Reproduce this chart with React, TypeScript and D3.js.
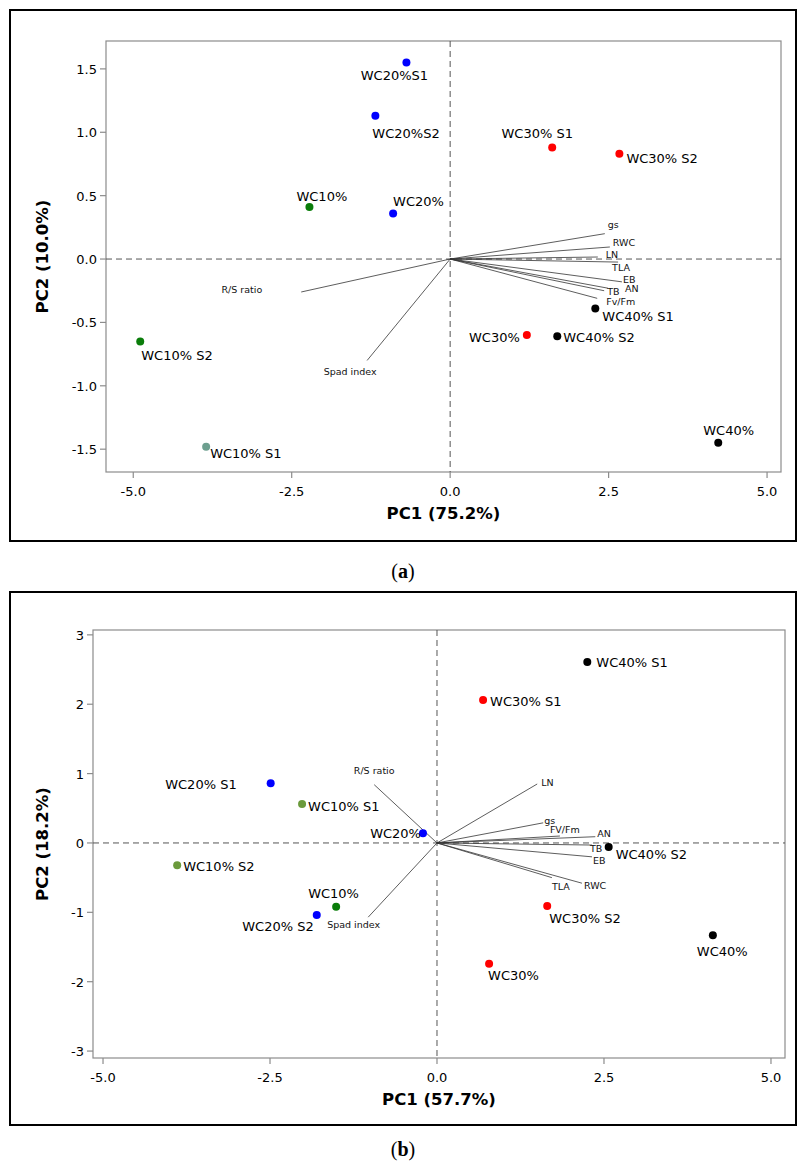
import React from "react";
import * as d3 from "d3";

// ---- Panel (a): PCA scores ----
const namesA = ["WC20%S1", "WC20%S2", "WC30% S1", "WC30% S2", "WC10%", "WC20%", "WC10% S2", "WC10% S1", "WC30%", "WC40% S2", "WC40% S1", "WC40%"];
const pc1A = [-0.69, -1.18, 1.61, 2.67, -2.22, -0.9, -4.89, -3.85, 1.21, 1.69, 2.29, 4.23];
const pc2A = [1.55, 1.13, 0.88, 0.83, 0.41, 0.36, -0.65, -1.48, -0.6, -0.61, -0.39, -1.45];
const colorA = ["#0000ff", "#0000ff", "#ff0000", "#ff0000", "#0a7d0a", "#0000ff", "#0a7d0a", "#6d9f8f", "#ff0000", "#000000", "#000000", "#000000"];

// ---- Panel (a): variable loadings ----
const varsA = ["gs", "RWC", "LN", "TLA", "EB", "AN", "TB", "Fv/Fm", "R/S ratio", "Spad index"];
const loadXA = [2.44, 2.52, 2.33, 2.65, 2.71, 2.49, 2.43, 2.32, -2.35, -1.31];
const loadYA = [0.2, 0.095, 0.016, -0.024, -0.18, -0.23, -0.25, -0.31, -0.26, -0.8];

// ---- Panel (b): PCA scores ----
const namesB = ["WC40% S1", "WC30% S1", "WC20% S1", "WC10% S1", "WC20%", "WC10% S2", "WC40% S2", "WC10%", "WC20% S2", "WC30% S2", "WC30%", "WC40%"];
const pc1B = [2.25, 0.69, -2.49, -2.02, -0.21, -3.89, 2.57, -1.51, -1.8, 1.65, 0.78, 4.13];
const pc2B = [2.61, 2.06, 0.86, 0.56, 0.14, -0.32, -0.06, -0.92, -1.04, -0.91, -1.74, -1.33];
const colorB = ["#000000", "#ff0000", "#0000ff", "#6b9a3c", "#0000ff", "#6b9a3c", "#000000", "#0a7d0a", "#0000ff", "#ff0000", "#ff0000", "#000000"];

// ---- Panel (b): variable loadings ----
const varsB = ["R/S ratio", "LN", "gs", "FV/Fm", "AN", "TB", "EB", "RWC", "TLA", "Spad index"];
const loadXB = [-0.94, 1.5, 1.59, 1.84, 2.37, 2.32, 2.32, 2.17, 1.72, -1.03];
const loadYB = [0.84, 0.85, 0.29, 0.1, 0.09, -0.03, -0.2, -0.58, -0.5, -1.07];

// ---- Axis ticks ----
const xTicks = [-5.0, -2.5, 0.0, 2.5, 5.0];
const yTicksA = [-1.5, -1.0, -0.5, 0.0, 0.5, 1.0, 1.5];
const yTicksB = [-3, -2, -1, 0, 1, 2, 3];

// ---- Label placement (pixel offsets from the mark) ----
type Place = [number, number, "start" | "middle" | "end"];
const scoreLabelA: Place[] = [
  [-12, 17, "middle"], [-3, 22, "start"], [-15, -9, "middle"], [7, 9, "start"],
  [-13, -6, "start"], [0, -7, "start"], [1, 19, "start"], [4, 11, "start"],
  [-7, 7, "end"], [6, 6, "start"], [7, 13, "start"], [-15, -8, "start"],
];
const varLabelA: Place[] = [
  [3, -6, "start"], [3, -1, "start"], [8, 1, "start"], [-6, 9, "start"], [1, 1, "start"],
  [17, 4, "start"], [3, 4, "start"], [9, 7, "start"], [-39, 1, "end"], [-17, 15, "middle"],
];
const scoreLabelB: Place[] = [
  [9, 5, "start"], [7, 6, "start"], [-34, 6, "end"], [6, 7, "start"], [-2, 5, "end"],
  [6, 6, "start"], [7, 12, "start"], [-28, -9, "start"], [-3, 16, "end"], [2, 17, "start"],
  [-1, 16, "start"], [-16, 21, "start"],
];
const varLabelB: Place[] = [
  [0, -11, "middle"], [4, 2, "start"], [1, 1, "start"], [-10, -3, "start"], [2, 0, "start"],
  [-2, 7, "start"], [1, 7, "start"], [2, 6, "start"], [0, 12, "start"], [-41, 11, "start"],
];

const FONT = "'DejaVu Sans', Verdana, sans-serif";

// plain hyphen for negative numbers
const fmt1 = (v: number) => d3.format(".1f")(v).replace("\u2212", "-");
const fmt0 = (v: number) => d3.format("d")(v).replace("\u2212", "-");

interface PanelProps {
  frameTop: number;
  frameBottom: number;
  captionY: number;
  left: number;
  right: number;
  top: number;
  bottom: number;
  xDomain: [number, number];
  yDomain: [number, number];
  yTicks: number[];
  yFmt: (v: number) => string;
  xTitle: string;
  yTitle: string;
  caption: string;
  names: string[];
  px: number[];
  py: number[];
  colors: string[];
  scorePlace: Place[];
  vars: string[];
  lx: number[];
  ly: number[];
  varPlace: Place[];
}

function Panel(p: PanelProps) {
  const x = d3.scaleLinear().domain(p.xDomain).range([p.left, p.right]);
  const y = d3.scaleLinear().domain(p.yDomain).range([p.bottom, p.top]);
  const axisColor = "#8c8c8c";
  const x0 = x(0);
  const y0 = y(0);
  const xMid = (p.left + p.right) / 2;
  const yMid = (p.top + p.bottom) / 2;
  return (
    <g>
      {/* outer frame */}
      <rect x={10} y={p.frameTop} width={786} height={p.frameBottom - p.frameTop} fill="none" stroke="#000" strokeWidth={2} />
      {/* plot box */}
      <rect x={p.left} y={p.top} width={p.right - p.left} height={p.bottom - p.top} fill="#fff" stroke={axisColor} strokeWidth={1.2} />
      {/* reference lines through the origin */}
      <line x1={p.left} x2={p.right} y1={y0} y2={y0} stroke="#555" strokeWidth={1} strokeDasharray="6,4" />
      <line x1={x0} x2={x0} y1={p.top} y2={p.bottom} stroke="#555" strokeWidth={1} strokeDasharray="6,4" />
      {/* x axis ticks */}
      {xTicks.map((t) => (
        <g key={"xt" + t}>
          <line x1={x(t)} x2={x(t)} y1={p.bottom} y2={p.bottom + 6} stroke={axisColor} strokeWidth={1.2} />
          <text x={x(t)} y={p.bottom + 24} textAnchor="middle" fontFamily={FONT} fontSize={13} fill="#000">
            {fmt1(t)}
          </text>
        </g>
      ))}
      {/* y axis ticks */}
      {p.yTicks.map((t) => (
        <g key={"yt" + t}>
          <line x1={p.left - 6} x2={p.left} y1={y(t)} y2={y(t)} stroke={axisColor} strokeWidth={1.2} />
          <text x={p.left - 9} y={y(t) + 5} textAnchor="end" fontFamily={FONT} fontSize={13} fill="#000">
            {p.yFmt(t)}
          </text>
        </g>
      ))}
      {/* axis titles */}
      <text x={xMid} y={p.bottom + 47} textAnchor="middle" fontFamily={FONT} fontSize={16.5} fontWeight="bold">
        {p.xTitle}
      </text>
      <text
        transform={`translate(48,${yMid}) rotate(-90)`}
        textAnchor="middle"
        fontFamily={FONT}
        fontSize={16.5}
        fontWeight="bold"
      >
        {p.yTitle}
      </text>
      {/* loading vectors */}
      {p.vars.map((v, i) => {
        const ex = x(p.lx[i]);
        const ey = y(p.ly[i]);
        const [dx, dy, anchor] = p.varPlace[i];
        return (
          <g key={"v" + v}>
            <line x1={x0} y1={y0} x2={ex} y2={ey} stroke="#333" strokeWidth={0.8} />
            <text x={ex + dx} y={ey + dy} textAnchor={anchor} fontFamily={FONT} fontSize={9.5} fill="#111">
              {v}
            </text>
          </g>
        );
      })}
      {/* scores */}
      {p.names.map((n, i) => {
        const cx = x(p.px[i]);
        const cy = y(p.py[i]);
        const [dx, dy, anchor] = p.scorePlace[i];
        return (
          <g key={"s" + n}>
            <circle cx={cx} cy={cy} r={4} fill={p.colors[i]} />
            <text x={cx + dx} y={cy + dy} textAnchor={anchor} fontFamily={FONT} fontSize={13} fill="#000">
              {n}
            </text>
          </g>
        );
      })}
      {/* caption */}
      <text x={403} y={p.captionY} textAnchor="middle" fontFamily="'Liberation Serif', 'DejaVu Serif', serif" fontSize={20}>
        (<tspan fontWeight="bold">{p.caption}</tspan>)
      </text>
    </g>
  );
}

export default function App() {
  return (
    <svg width={803} height={1166} style={{ position: "absolute", left: 0, top: 0, background: "#fff" }}>
      <rect x={0} y={0} width={803} height={1166} fill="#fff" />
      <Panel
        frameTop={10}
        frameBottom={541}
        captionY={578}
        left={106}
        right={781}
        top={41}
        bottom={472}
        xDomain={[-5.43, 5.22]}
        yDomain={[-1.68, 1.72]}
        yTicks={yTicksA}
        yFmt={fmt1}
        xTitle="PC1 (75.2%)"
        yTitle="PC2 (10.0%)"
        caption="a"
        names={namesA}
        px={pc1A}
        py={pc2A}
        colors={colorA}
        scorePlace={scoreLabelA}
        vars={varsA}
        lx={loadXA}
        ly={loadYA}
        varPlace={varLabelA}
      />
      <Panel
        frameTop={592}
        frameBottom={1125}
        captionY={1156}
        left={93}
        right={785}
        top={630}
        bottom={1058}
        xDomain={[-5.15, 5.21]}
        yDomain={[-3.1, 3.07]}
        yTicks={yTicksB}
        yFmt={fmt0}
        xTitle="PC1 (57.7%)"
        yTitle="PC2 (18.2%)"
        caption="b"
        names={namesB}
        px={pc1B}
        py={pc2B}
        colors={colorB}
        scorePlace={scoreLabelB}
        vars={varsB}
        lx={loadXB}
        ly={loadYB}
        varPlace={varLabelB}
      />
    </svg>
  );
}
